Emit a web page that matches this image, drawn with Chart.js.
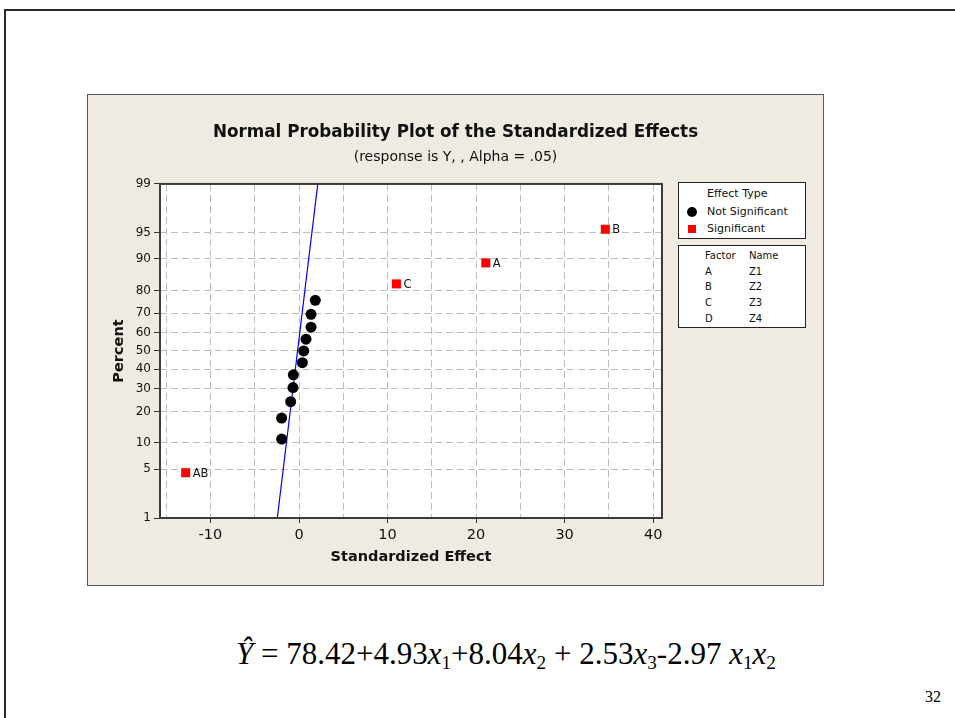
<!DOCTYPE html>
<html>
<head>
<meta charset="utf-8">
<script src="https://cdn.jsdelivr.net/npm/chart.js@4.4.1/dist/chart.umd.min.js"></script>
<style>
html, body { margin: 0; padding: 0; background: #fff; width: 955px; height: 718px; overflow: hidden; }
#frame { position: absolute; left: 4px; top: 9px; width: 1100px; height: 900px; border-left: 2px solid #2b2b2b; border-top: 2px solid #2b2b2b; }
#panel { position: absolute; left: 87px; top: 94px; width: 735px; height: 490px; border: 1px solid #5a5a5a; background: #efebe2; }
#panel canvas { position: absolute; left: 0; top: 0; }
.lg { position: absolute; background: #fff; border: 1px solid #222; box-sizing: border-box; font-family: "DejaVu Sans"; color: #111; }
.lg span { position: absolute; white-space: nowrap; line-height: 14px; }
.dot { position: absolute; width: 10px; height: 10px; border-radius: 50%; background: #000; }
.sq { position: absolute; width: 8px; height: 8px; background: #ff0000; }
#eq { position: absolute; left: 236px; top: 638px; font-family: "Liberation Serif"; font-size: 31px; line-height: 31px; color: #000; white-space: nowrap; }
#eq sub { font-size: 0.62em; vertical-align: -0.28em; line-height: 0; }
#pg { position: absolute; left: 900px; width: 41px; top: 689px; text-align: right; font-family: "Liberation Serif"; font-size: 16px; line-height: 16px; }
</style>
</head>
<body>
<div id="frame"></div>
<div id="panel">
  <canvas id="chart" width="735" height="490"></canvas>
  <div class="lg" id="box1" style="left:590px;top:87px;width:128px;height:57px;"></div>
  <div class="lg" id="box2" style="left:590px;top:150px;width:128px;height:83px;"></div>
</div>
<div id="eq"><i>Ŷ</i> = 78.42+4.93<i>x</i><sub>1</sub>+8.04<i>x</i><sub>2</sub> + 2.53<i>x</i><sub>3</sub>-2.97 <i>x</i><sub>1</sub><i>x</i><sub>2</sub></div>
<div id="pg">32</div>
<script>
// effects (standardized effect, percent)
var nsEffects = [-1.96, -1.96, -0.94, -0.68, -0.64, 0.38, 0.53, 0.79, 1.36, 1.36, 1.84];
var nsPercent = [11.0, 17.5, 24.0, 30.5, 37.0, 43.5, 50.0, 56.5, 63.0, 69.5, 76.0];
var sigNames = ['AB', 'C', 'A', 'B'];
var sigEffects = [-12.8, 11.0, 21.1, 34.6];
var sigPercent = [4.5, 82.5, 89.0, 95.5];
var fitEffects = [-2.45, 2.12];
var fitPercent = [1, 99];

var xTicks = [-15, -10, -5, 0, 5, 10, 15, 20, 25, 30, 35, 40];
var percentTicks = [1, 5, 10, 20, 30, 40, 50, 60, 70, 80, 90, 95, 99];

var factorLetters = ['A', 'B', 'C', 'D'];
var factorNames = ['Z1', 'Z2', 'Z3', 'Z4'];

// inverse normal cdf (Acklam), used by the probability axis
function probit(p) {
    var a = [-39.69683028665376, 220.9460984245205, -275.9285104469687, 138.3577518672690, -30.66479806614716, 2.506628274631000];
    var b = [-54.47609879822406, 161.5858368580409, -155.6989798598866, 66.80131188771972, -13.28068155288572];
    var c = [-0.007784894002430293, -0.3223964580411365, -2.400758277161838, -2.549732539343734, 4.374664141464968, 2.938163982698783];
    var d = [0.007784695709041462, 0.3224671290700398, 2.445134137142996, 3.754408661907416];
    var pl = 0.02425, q, r;
    if (p < pl) {
        q = Math.sqrt(-2 * Math.log(p));
        return (((((c[0]*q+c[1])*q+c[2])*q+c[3])*q+c[4])*q+c[5]) / ((((d[0]*q+d[1])*q+d[2])*q+d[3])*q+1);
    }
    if (p > 1 - pl) {
        q = Math.sqrt(-2 * Math.log(1 - p));
        return -(((((c[0]*q+c[1])*q+c[2])*q+c[3])*q+c[4])*q+c[5]) / ((((d[0]*q+d[1])*q+d[2])*q+d[3])*q+1);
    }
    q = p - 0.5; r = q * q;
    return (((((a[0]*r+a[1])*r+a[2])*r+a[3])*r+a[4])*r+a[5])*q / (((((b[0]*r+b[1])*r+b[2])*r+b[3])*r+b[4])*r+1);
}

class ProbabilityScale extends Chart.LinearScale {
    buildTicks() {
        return percentTicks.map(function(v) { return { value: v }; });
    }
    getPixelForValue(value) {
        if (value === null || value === undefined) return NaN;
        var z0 = probit(this.min / 100), z1 = probit(this.max / 100);
        return this.getPixelForDecimal((probit(value / 100) - z0) / (z1 - z0));
    }
}
ProbabilityScale.id = 'probability';
ProbabilityScale.defaults = Chart.LinearScale.defaults;
Chart.register(ProbabilityScale);

// legend boxes
function addSpan(box, text, left, cy, size) {
    var s = document.createElement('span');
    s.textContent = text;
    s.style.left = left + 'px';
    s.style.top = (cy - 7) + 'px';
    s.style.fontSize = size + 'px';
    box.appendChild(s);
}
var box1 = document.getElementById('box1');
addSpan(box1, 'Effect Type', 28, 11.3, 11);
var dot = document.createElement('div'); dot.className = 'dot'; dot.style.left = '8px'; dot.style.top = '24.3px'; box1.appendChild(dot);
addSpan(box1, 'Not Significant', 28, 29.3, 11);
var sq = document.createElement('div'); sq.className = 'sq'; sq.style.left = '9px'; sq.style.top = '42.3px'; box1.appendChild(sq);
addSpan(box1, 'Significant', 28, 46.3, 11);

var box2 = document.getElementById('box2');
addSpan(box2, 'Factor', 26, 9.7, 10);
addSpan(box2, 'Name', 70, 9.7, 10);
var rowY = [25.7, 41, 56.7, 73];
factorLetters.forEach(function(f, i) {
    addSpan(box2, f, 26, rowY[i], 10);
    addSpan(box2, factorNames[i], 70, rowY[i], 10);
});

var plotFrame = {
    id: 'plotFrame',
    beforeDraw: function(chart) {
        var a = chart.chartArea, ctx = chart.ctx;
        ctx.save();
        ctx.fillStyle = '#ffffff';
        ctx.fillRect(a.left, a.top, a.right - a.left, a.bottom - a.top);
        ctx.restore();
    },
    afterDatasetsDraw: function(chart) {
        var a = chart.chartArea, ctx = chart.ctx;
        ctx.save();
        ctx.strokeStyle = '#3c3c3c';
        ctx.lineWidth = 2;
        ctx.strokeRect(a.left, a.top, a.right - a.left, a.bottom - a.top);
        // names of the significant effects
        var meta = chart.getDatasetMeta(1);
        ctx.fillStyle = '#111';
        ctx.font = '11.5px "DejaVu Sans"';
        ctx.textBaseline = 'middle';
        meta.data.forEach(function(pt, i) {
            ctx.fillText(sigNames[i], pt.x + 7, pt.y + 1);
        });
        ctx.restore();
    }
};

var ctx = document.getElementById('chart').getContext('2d');
var chart = new Chart(ctx, {
    type: 'scatter',
    data: {
        datasets: [{
            label: 'Not Significant',
            data: nsEffects.map(function(v, i) { return { x: v, y: nsPercent[i] }; }),
            pointStyle: 'circle',
            pointRadius: 5.5,
            backgroundColor: '#000',
            borderColor: '#000',
            borderWidth: 0
        }, {
            label: 'Significant',
            data: sigEffects.map(function(v, i) { return { x: v, y: sigPercent[i] }; }),
            pointStyle: 'rect',
            pointRadius: 6.4,
            backgroundColor: '#ff0000',
            borderColor: '#ff0000',
            borderWidth: 0
        }, {
            type: 'line',
            label: 'fit',
            data: fitEffects.map(function(v, i) { return { x: v, y: fitPercent[i] }; }),
            borderColor: '#0000ff',
            borderWidth: 1.2,
            pointRadius: 0,
            fill: false
        }]
    },
    options: {
        responsive: false,
        animation: false,
        events: [],
        layout: { padding: 0 },
        plugins: {
            legend: { display: false },
            tooltip: { enabled: false },
            title: {
                display: true,
                text: 'Normal Probability Plot of the Standardized Effects',
                color: '#111',
                font: { family: 'DejaVu Sans', size: 16.8, weight: 'bold' },
                padding: { top: 28, bottom: 6 }
            },
            subtitle: {
                display: true,
                text: '(response is Y, , Alpha = .05)',
                color: '#111',
                font: { family: 'DejaVu Sans', size: 14 },
                padding: { top: 0, bottom: 18 }
            }
        },
        scales: {
            x: {
                type: 'linear',
                min: -15.7,
                max: 41,
                afterBuildTicks: function(s) { s.ticks = xTicks.map(function(v) { return { value: v }; }); },
                afterFit: function(s) { s.height = 67; },
                ticks: {
                    color: '#111',
                    font: { family: 'DejaVu Sans', size: 14.5 },
                    padding: 4,
                    maxRotation: 0,
                    autoSkip: false,
                    callback: function(v) { return v % 10 === 0 ? String(v) : ''; }
                },
                grid: {
                    color: '#bdbdbd',
                    lineWidth: 1,
                    tickLength: 5,
                    tickColor: function(c) { return c.tick && c.tick.value % 10 === 0 ? '#333' : 'rgba(0,0,0,0)'; }
                },
                border: { display: false, dash: [7, 4] },
                title: {
                    display: true,
                    text: 'Standardized Effect',
                    color: '#111',
                    font: { family: 'DejaVu Sans', size: 14.5, weight: 'bold' },
                    padding: { top: 0, bottom: 19.3 }
                }
            },
            y: {
                type: 'probability',
                position: 'left',
                min: 1,
                max: 99,
                afterFit: function(s) { s.width = 72; },
                ticks: {
                    color: '#111',
                    font: { family: 'DejaVu Sans', size: 12 },
                    padding: 3,
                    autoSkip: false,
                    callback: function(v) { return String(v); }
                },
                grid: {
                    color: '#bdbdbd',
                    lineWidth: 1,
                    tickLength: 6,
                    tickColor: '#333'
                },
                border: { display: false, dash: [7, 4] },
                title: {
                    display: true,
                    text: 'Percent',
                    color: '#111',
                    font: { family: 'DejaVu Sans', size: 14.5, weight: 'bold' },
                    padding: { top: 22.3, bottom: 0 }
                }
            },
            side: {
                type: 'linear',
                position: 'right',
                display: true,
                afterFit: function(s) { s.width = 161; },
                ticks: { display: false },
                grid: { display: false },
                border: { display: false }
            }
        }
    },
    plugins: [plotFrame]
});
</script>
</body>
</html>
